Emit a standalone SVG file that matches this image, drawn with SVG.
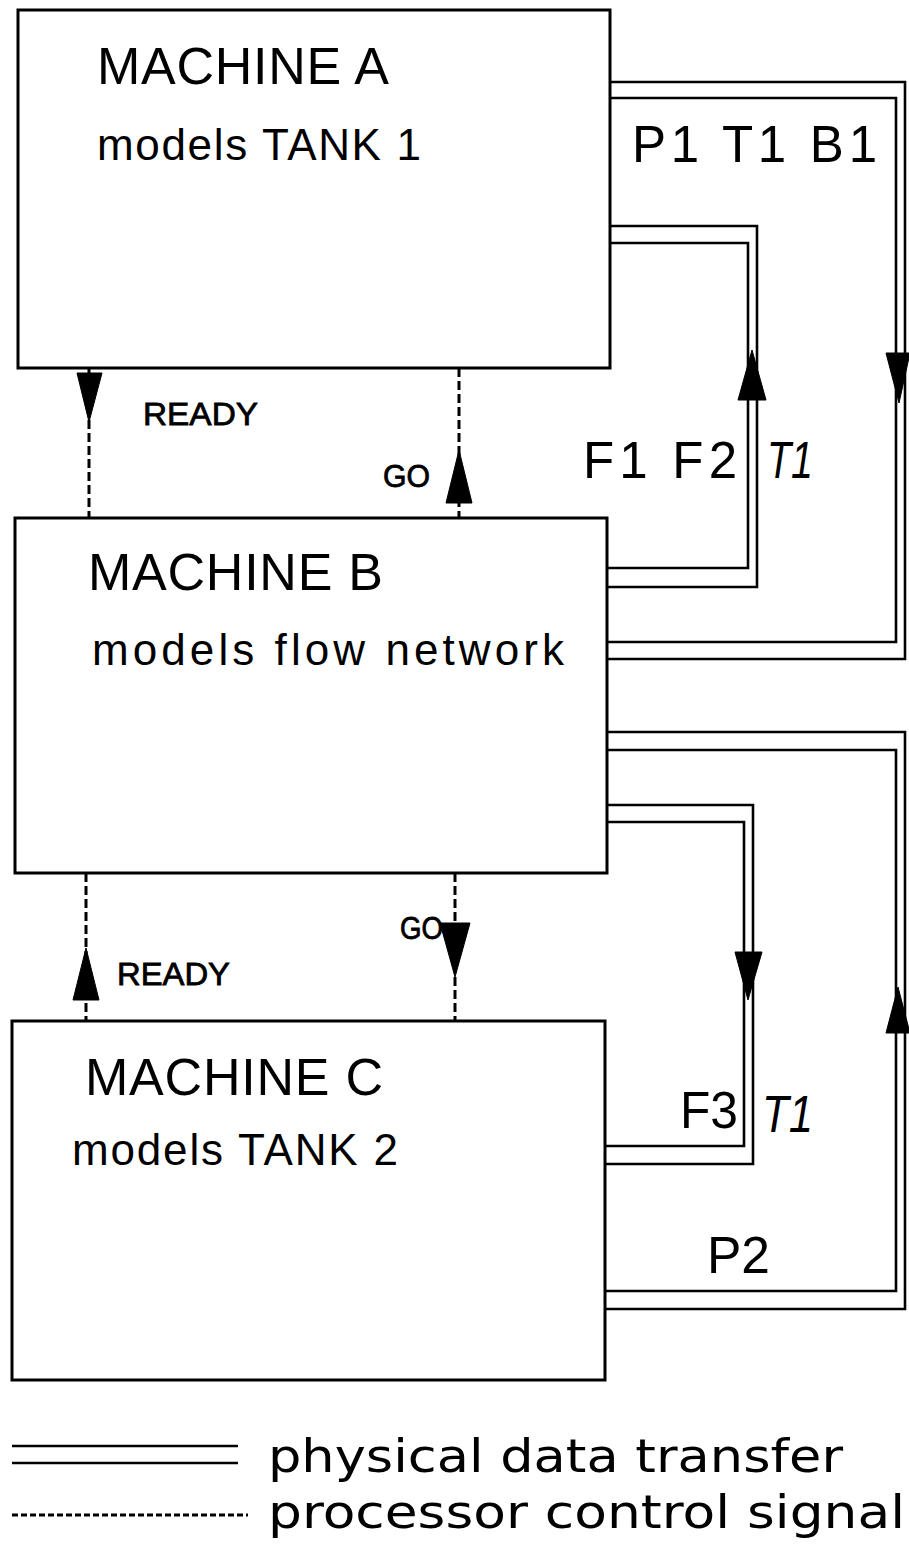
<svg xmlns="http://www.w3.org/2000/svg" width="909" height="1547" viewBox="0 0 909 1547">
<style>
.box{fill:#fff;stroke:#000;stroke-width:3}
.dl{fill:none;stroke:#000;stroke-width:2.6;stroke-linejoin:miter}
.ds{fill:none;stroke:#000;stroke-width:3;stroke-dasharray:9 4}
.ah{fill:#000;stroke:#000;stroke-width:1}
.t{font-family:"Liberation Sans",Arial,sans-serif;fill:#000}
.big{font-size:52px}
.sub{font-size:44px}
.lbl{font-size:51px}
.sm{font-size:32px;stroke:#000;stroke-width:0.8}
.it{font-style:italic}
.leg{font-family:"DejaVu Sans",sans-serif;font-size:46px;fill:#000}
</style>
<rect width="909" height="1547" fill="#fff"/>
<g id="connectors">
  <!-- A -> B : P1 T1 B1 -->
  <polyline class="dl" points="610,82 905,82 905,659 607,659"/>
  <polyline class="dl" points="610,98 896,98 896,642 607,642"/>
  <polygon class="ah" points="886,353 910,353 899,403"/>
  <!-- B -> A : F1 F2 T1 -->
  <polyline class="dl" points="607,587 757,587 757,226 610,226"/>
  <polyline class="dl" points="607,568 748,568 748,243 610,243"/>
  <polygon class="ah" points="752,350 766,400 738,400"/>
  <!-- B -> C : F3 T1 -->
  <polyline class="dl" points="606,805 753,805 753,1164 605,1164"/>
  <polyline class="dl" points="606,822 744,822 744,1146 605,1146"/>
  <polygon class="ah" points="735,952 762,952 748,1000"/>
  <!-- C -> B : P2 -->
  <polyline class="dl" points="605,1309 905,1309 905,732 606,732"/>
  <polyline class="dl" points="605,1291 896,1291 896,750 606,750"/>
  <polygon class="ah" points="898,987 910,1033 886,1033"/>
  <!-- control signals A-B -->
  <line class="ds" x1="89" y1="368" x2="89" y2="517"/>
  <polygon class="ah" points="77,373 102,373 89,422"/>
  <line class="ds" x1="459" y1="368" x2="459" y2="517"/>
  <polygon class="ah" points="459,450 472,503 446,503"/>
  <!-- control signals B-C -->
  <line class="ds" x1="86" y1="873" x2="86" y2="1021"/>
  <polygon class="ah" points="86,948 99,1000 73,1000"/>
  <line class="ds" x1="455" y1="873" x2="455" y2="1021"/>
  <polygon class="ah" points="440,923 470,923 455,977"/>
</g>
<g id="machine-a">
  <rect class="box" x="18" y="10" width="592" height="358"/>
  <text class="t big" x="97" y="84" textLength="292">MACHINE A</text>
  <text class="t sub" x="97" y="160" textLength="324">models TANK 1</text>
</g>
<g id="machine-b">
  <rect class="box" x="15" y="518" width="592" height="355"/>
  <text class="t big" x="88" y="590" textLength="295">MACHINE B</text>
  <text class="t sub" x="92" y="665" textLength="472">models flow network</text>
</g>
<g id="machine-c">
  <rect class="box" x="12" y="1021" width="593" height="359"/>
  <text class="t big" x="85" y="1095" textLength="298">MACHINE C</text>
  <text class="t sub" x="72" y="1165" textLength="326">models TANK 2</text>
</g>
<g id="labels">
  <text class="t lbl" x="632" y="162" textLength="245">P1 T1 B1</text>
  <text class="t lbl" x="583" y="478" textLength="154">F1 F2</text>
  <text class="t lbl it" x="767" y="478" textLength="46" lengthAdjust="spacingAndGlyphs">T1</text>
  <text class="t lbl" x="680" y="1128" textLength="58" lengthAdjust="spacingAndGlyphs">F3</text>
  <text class="t lbl it" x="762" y="1132" textLength="51" lengthAdjust="spacingAndGlyphs">T1</text>
  <text class="t lbl" x="707" y="1273" textLength="63" lengthAdjust="spacingAndGlyphs">P2</text>
  <text class="t sm" x="143" y="425" textLength="115" lengthAdjust="spacingAndGlyphs">READY</text>
  <text class="t sm" x="383" y="487" textLength="47" lengthAdjust="spacingAndGlyphs">GO</text>
  <text class="t sm" x="117" y="985" textLength="113" lengthAdjust="spacingAndGlyphs">READY</text>
  <text class="t sm" x="400" y="939" textLength="43" lengthAdjust="spacingAndGlyphs">GO</text>
</g>
<g id="legend">
  <line class="dl" x1="12" y1="1446" x2="238" y2="1446"/>
  <line class="dl" x1="12" y1="1463" x2="238" y2="1463"/>
  <line class="ds" x1="12" y1="1515" x2="248" y2="1515" style="stroke-dasharray:6 3"/>
  <text class="leg" x="268" y="1472" textLength="575" lengthAdjust="spacingAndGlyphs">physical data transfer</text>
  <text class="leg" x="268" y="1528" textLength="637" lengthAdjust="spacingAndGlyphs">processor control signal</text>
</g>
</svg>
